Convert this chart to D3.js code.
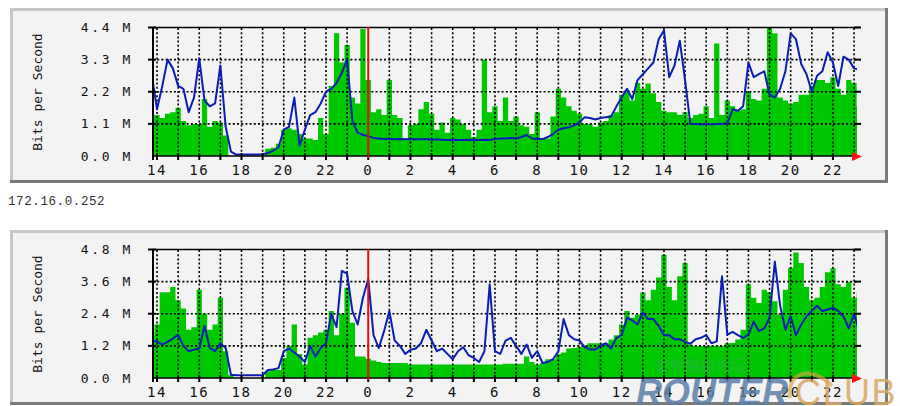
<!DOCTYPE html>
<html><head><meta charset="utf-8">
<script src="https://cdn.jsdelivr.net/npm/d3@7"></script>
<style>html,body{margin:0;padding:0;background:#fff}svg{display:block}</style>
</head><body>
<svg id="chart" width="900" height="406"></svg>
<script>
// ---- data (values in Mbit/s, one sample every 15 minutes starting 13:45) ----
const startHour = 13.75;
const stepHours = 0.25;

const inTraffic1 = [
1.4,1.4,1.3,1.45,1.5,1.65,1.2,1.05,1.1,1.1,
1.95,1.0,1.2,1.15,0.7,0,0,0,0,0,
0,0,0.25,0.28,0.42,0.9,0.95,0.9,0.75,0.6,
0.6,0.55,1.3,0.75,2.4,4.2,3.2,3.8,2.0,1.8,
4.35,2.6,1.5,1.6,1.4,2.6,1.4,1.3,0.6,1.05,
1.1,1.6,1.85,1.45,0.9,1.15,0.8,1.3,1.25,1.1,
0.9,0.65,0.9,3.3,1.5,1.7,1.2,2.0,1.2,1.35,
1.05,1.0,0.75,1.5,0.6,0.6,1.35,2.3,2.0,1.7,
1.55,1.45,1.1,1.1,1.0,1.15,1.2,1.4,1.5,2.1,
2.25,1.9,2.5,2.3,2.48,2.15,1.85,1.55,1.5,1.5,
1.4,1.5,1.3,1.4,1.45,1.7,1.3,3.85,1.4,1.9,
1.7,1.55,1.6,2.2,1.95,1.9,2.3,4.4,4.2,2.0,
1.9,1.8,1.85,2.1,2.1,2.4,2.6,2.6,2.5,2.7,
2.3,2.1,2.6,2.5,1.7];

const outTraffic1 = [
2.8,1.6,2.4,3.3,3.0,2.4,2.3,1.5,2.0,3.34,
1.9,1.7,1.8,3.1,1.0,0.15,0.05,0.05,0.05,0.05,
0.05,0.06,0.1,0.18,0.3,0.9,1.0,2.0,0.35,0.9,
1.4,1.5,1.8,2.2,2.3,2.5,2.85,3.3,1.2,0.8,
0.72,0.68,0.62,0.6,0.58,0.58,0.57,0.58,0.57,0.58,
0.57,0.57,0.58,0.56,0.57,0.56,0.55,0.56,0.55,0.55,
0.56,0.55,0.55,0.56,0.55,0.58,0.6,0.6,0.62,0.6,
0.65,0.72,0.6,0.58,0.58,0.65,0.75,0.9,0.95,0.98,
1.05,1.15,1.33,1.3,1.25,1.3,1.33,1.35,1.7,2.0,
2.3,1.95,2.6,2.8,3.0,3.2,4.0,4.3,2.7,3.1,
3.95,2.6,1.1,1.1,1.08,1.1,1.08,1.1,1.1,1.12,
1.6,1.55,1.7,3.2,2.7,2.8,2.9,2.1,2.0,2.3,
2.9,4.2,4.0,3.15,2.8,2.2,2.75,2.9,3.55,3.2,
2.4,3.4,3.3,3.0,2.95];

const inTraffic2 = [
1.6,2.0,3.2,3.2,3.4,2.9,2.6,1.8,1.9,3.3,
2.4,1.8,2.0,3.0,1.0,0.1,0,0,0,0,
0,0,0.25,0.3,0.3,0.75,1.2,2.0,0.9,0.5,
1.5,1.6,1.7,1.8,2.5,1.6,2.4,3.37,2.06,0.8,
0.8,0.72,0.65,0.6,0.56,0.56,0.56,0.56,0.56,0.5,
0.5,0.5,0.5,0.5,0.5,0.5,0.5,0.5,0.5,0.5,
0.5,0.5,0.5,0.5,0.5,0.5,0.5,0.53,0.53,0.53,
0.53,0.8,0.6,0.5,0.55,0.7,0.7,0.9,0.95,1.1,
1.12,1.15,1.2,1.3,1.3,1.3,1.3,1.44,1.6,2.0,
2.5,2.25,2.37,3.19,2.9,3.3,3.75,4.6,3.4,2.9,
3.8,4.3,1.25,1.2,1.2,1.2,1.2,1.2,1.2,1.3,
1.31,1.44,1.8,3.5,3.0,2.8,3.3,3.2,2.87,2.37,
3.3,4.12,4.69,4.3,3.4,2.9,3.0,3.4,3.95,4.1,
3.5,3.4,3.6,3.0,3.19];

const outTraffic2 = [
1.37,1.37,1.25,1.35,1.47,1.62,1.2,1.0,1.06,1.1,
1.94,1.12,1.0,1.3,1.12,0.12,0.1,0.1,0.1,0.1,
0.1,0.1,0.3,0.32,0.37,1.0,1.1,0.95,0.8,0.6,
1.2,0.8,1.12,1.3,2.4,1.9,4.0,3.9,2.5,2.0,
3.0,3.7,1.6,1.12,1.75,2.5,1.4,1.2,0.9,1.05,
1.1,1.3,1.8,1.4,1.0,1.1,0.9,0.7,1.0,1.15,
0.85,0.75,0.6,1.0,3.5,1.0,0.9,1.4,1.5,1.2,
0.9,1.25,0.75,1.0,0.56,0.6,0.7,1.0,2.2,1.6,
1.45,1.4,1.15,1.06,1.06,1.2,1.3,1.1,1.5,1.6,
2.25,2.15,2.0,2.45,2.2,2.2,1.95,1.6,1.6,1.45,
1.45,1.35,1.28,1.45,1.5,1.6,1.3,1.37,3.8,1.62,
1.72,1.6,1.5,1.62,2.1,1.75,1.85,2.25,4.35,2.7,
1.8,2.3,1.6,2.0,2.3,2.5,2.7,2.5,2.56,2.62,
2.5,2.3,1.85,2.4,1.75];

const yTicks1 = [0, 1.1, 2.2, 3.3, 4.4];
const yTicks2 = [0, 1.2, 2.4, 3.6, 4.8];
const timeDomain = [13.81, 47.14];          // hours (24 = midnight of next day)
const hourGrid = d3.range(14, 48);          // one gridline per hour
const hourLabels = d3.range(14, 48, 2);     // labelled every 2 hours
const midnight = 24;
const yAxisTitle = "Bits per Second";
const hostLabel = "172.16.0.252";

// ---- drawing ----
const svg = d3.select("#chart");
const FONT = "'DejaVu Sans Mono', 'Liberation Mono', monospace";

function drawPanel(dy, inVals, outVals, yTicks) {
  const g = svg.append("g").attr("transform", `translate(0,${dy})`);
  // frame
  g.append("rect").attr("x", 10).attr("y", 8).attr("width", 878).attr("height", 175).attr("fill", "#f3f3f3");
  g.append("rect").attr("x", 10).attr("y", 8).attr("width", 878).attr("height", 3).attr("fill", "#c6c6c6");
  g.append("rect").attr("x", 10).attr("y", 8).attr("width", 3).attr("height", 175).attr("fill", "#c6c6c6");
  g.append("rect").attr("x", 10).attr("y", 180).attr("width", 878).attr("height", 3).attr("fill", "#7a7a7a");
  g.append("rect").attr("x", 885).attr("y", 8).attr("width", 3).attr("height", 175).attr("fill", "#7a7a7a");

  const x = d3.scaleLinear().domain(timeDomain).range([153, 857]);
  const y = d3.scaleLinear().domain([0, yTicks[yTicks.length - 1]]).range([156, 27.5]);

  const data = inVals.map((v, i) => ({ t: startHour + i * stepHours, inV: v, outV: outVals[i] }));
  const clipId = "clip" + dy;
  g.append("clipPath").attr("id", clipId).append("rect")
    .attr("x", 153).attr("y", 26).attr("width", 704).attr("height", 131);

  g.append("path").datum(data).attr("clip-path", `url(#${clipId})`)
    .attr("fill", "#00c800")
    .attr("d", d3.area().curve(d3.curveStep).x(d => x(d.t)).y0(y(0)).y1(d => y(d.inV)));

  // grid
  const grid = g.append("g").attr("stroke", "#000").attr("stroke-width", 1.6).attr("stroke-dasharray", "2,2.2");
  grid.selectAll("line.v").data(hourGrid.filter(h => h !== midnight)).join("line")
    .attr("x1", d => x(d)).attr("x2", d => x(d)).attr("y1", 28).attr("y2", 156);
  grid.selectAll("line.h").data(yTicks.slice(1, -1)).join("line")
    .attr("x1", 153).attr("x2", 857).attr("y1", d => y(d)).attr("y2", d => y(d));

  g.append("path").datum(data).attr("clip-path", `url(#${clipId})`)
    .attr("fill", "none").attr("stroke", "#0a1eb4").attr("stroke-width", 2)
    .attr("stroke-linejoin", "round")
    .attr("d", d3.line().x(d => x(d.t)).y(d => y(d.outV)));

  // axes
  g.append("line").attr("x1", 153).attr("x2", 860).attr("y1", 27.5).attr("y2", 27.5).attr("stroke", "#000").attr("stroke-width", 1.5);
  g.append("line").attr("x1", 153).attr("x2", 153).attr("y1", 27).attr("y2", 160).attr("stroke", "#000").attr("stroke-width", 2);
  g.append("line").attr("x1", 153).attr("x2", 855).attr("y1", 156).attr("y2", 156).attr("stroke", "#000").attr("stroke-width", 1.5);
  // left/right ticks
  g.selectAll("line.lt").data(yTicks.slice(1)).join("line")
    .attr("x1", 148).attr("x2", 156).attr("y1", d => y(d)).attr("y2", d => y(d)).attr("stroke", "#000").attr("stroke-width", 2);
  g.selectAll("line.rt").data(yTicks.slice(1)).join("line")
    .attr("x1", 854).attr("x2", 861).attr("y1", d => y(d)).attr("y2", d => y(d)).attr("stroke", "#000").attr("stroke-width", 2);
  // bottom hour ticks
  g.selectAll("line.bt").data(hourGrid).join("line")
    .attr("x1", d => x(d)).attr("x2", d => x(d)).attr("y1", 153).attr("y2", 160).attr("stroke", "#000").attr("stroke-width", 2);

  // midnight marker
  g.append("line").attr("x1", x(midnight)).attr("x2", x(midnight)).attr("y1", 27).attr("y2", 158)
    .attr("stroke", "#e0100a").attr("stroke-width", 2);
  // arrow
  g.append("path").attr("fill", "#ff1010")
    .attr("d", `M${x(timeDomain[1]) - 5},152 L${x(timeDomain[1]) + 5},156.5 L${x(timeDomain[1]) - 5},161 Z`);

  // labels
  g.selectAll("text.yl").data(yTicks).join("text")
    .attr("x", 133).attr("y", d => y(d) + 4.5).attr("text-anchor", "end")
    .attr("font-family", FONT).attr("font-size", 13).attr("letter-spacing", 2.6).attr("fill", "#111")
    .text(d => d3.format(".1f")(d) + " M");
  g.selectAll("text.xl").data(hourLabels).join("text")
    .attr("x", d => x(d)).attr("y", 175).attr("text-anchor", "middle")
    .attr("font-family", FONT).attr("font-size", 14).attr("letter-spacing", 1.5).attr("fill", "#111")
    .text(d => String(d % 24));
  g.append("text").attr("transform", "translate(42,92) rotate(-90)").attr("text-anchor", "middle")
    .attr("font-family", FONT).attr("font-size", 13).attr("fill", "#111").text(yAxisTitle);
}

drawPanel(0, inTraffic1, outTraffic1, yTicks1);
drawPanel(222, inTraffic2, outTraffic2, yTicks2);

svg.append("text").attr("x", 8).attr("y", 205).attr("font-family", "'Liberation Mono', monospace")
  .attr("font-size", 12.5).attr("letter-spacing", 0.6).attr("fill", "#333").text(hostLabel);

// watermark
const wm = svg.append("g");
wm.append("text").attr("x", 655).attr("y", 371).attr("font-family", "'Noto Sans CJK SC', sans-serif")
  .attr("font-size", 15).attr("fill", "#6e8fb8").attr("opacity", 0.3).text("软件路由论坛");
wm.append("path").attr("d", "M790,398 C786,376 808,362 832,386").attr("fill", "none")
  .attr("stroke", "#d8a640").attr("stroke-width", 4).attr("opacity", 0.65);
wm.append("text").attr("x", 636).attr("y", 405).attr("font-family", "'Liberation Sans', Arial, sans-serif")
  .attr("font-size", 36).attr("font-style", "italic").attr("font-weight", "bold")
  .attr("fill", "#5c7fa8").attr("opacity", 0.85).text("ROUTER");
wm.append("text").attr("x", 795).attr("y", 405).attr("font-family", "'Liberation Sans', Arial, sans-serif")
  .attr("font-size", 36).attr("letter-spacing", 1.5).attr("fill", "#d9a862").attr("opacity", 0.85).text("CLUB");
</script>
</body></html>
